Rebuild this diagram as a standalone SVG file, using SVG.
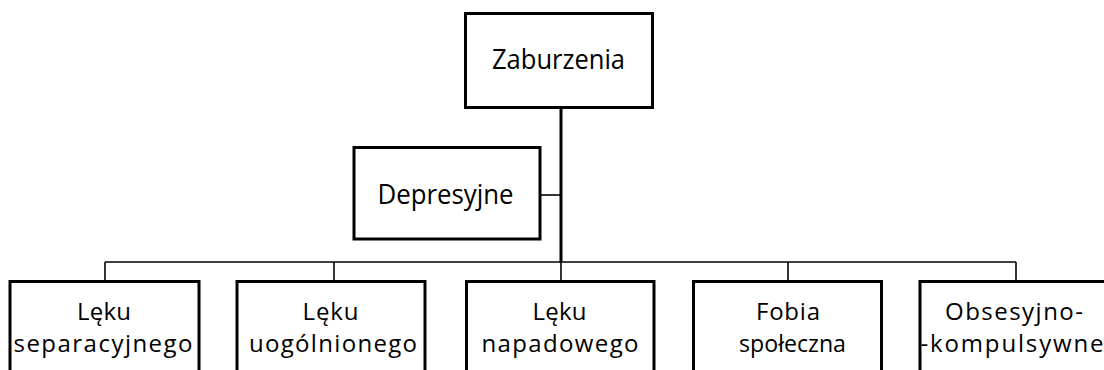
<svg xmlns="http://www.w3.org/2000/svg" width="1104" height="370" viewBox="0 0 1104 370">
<style>
.box{fill:#fff;stroke:#000;stroke-width:3}
.t{font-family:"Open Sans","Noto Sans",sans-serif;fill:#000;text-anchor:middle}
.big{font-size:27px}
.sm{font-size:24px}
.thin{stroke:#000;stroke-width:1.6;fill:none}
.thick{stroke:#000;stroke-width:3;fill:none}
</style>
<g id="connectors">
<line class="thick" x1="561" y1="107" x2="561" y2="262"/>
<line class="thin" x1="540" y1="195" x2="561" y2="195"/>
<line class="thin" x1="105" y1="262" x2="1016" y2="262"/>
<line class="thin" x1="105" y1="262" x2="105" y2="281"/>
<line class="thin" x1="334" y1="262" x2="334" y2="281"/>
<line class="thin" x1="561" y1="262" x2="561" y2="281"/>
<line class="thin" x1="788" y1="262" x2="788" y2="281"/>
<line class="thin" x1="1016" y1="262" x2="1016" y2="281"/>
</g>
<g id="zaburzenia">
<rect class="box" x="465.5" y="13.5" width="187" height="94"/>
<text class="t big" x="558.5" y="69" textLength="133" lengthAdjust="spacingAndGlyphs">Zaburzenia</text>
</g>
<g id="depresyjne">
<rect class="box" x="354" y="147.5" width="186" height="91.5"/>
<text class="t big" x="445.5" y="204" textLength="136" lengthAdjust="spacingAndGlyphs">Depresyjne</text>
</g>
<g id="separacyjnego">
<rect class="box" x="10" y="281.5" width="189" height="100"/>
<text class="t sm" x="104" y="320" textLength="54" lengthAdjust="spacing">Lęku</text>
<text class="t sm" x="103" y="352" textLength="179" lengthAdjust="spacing">separacyjnego</text>
</g>
<g id="uogolnionego">
<rect class="box" x="237" y="281.5" width="188" height="100"/>
<text class="t sm" x="330.5" y="320" textLength="56" lengthAdjust="spacing">Lęku</text>
<text class="t sm" x="333" y="352" textLength="168" lengthAdjust="spacing">uogólnionego</text>
</g>
<g id="napadowego">
<rect class="box" x="466.5" y="281.5" width="187.5" height="100"/>
<text class="t sm" x="559.5" y="320" textLength="54" lengthAdjust="spacing">Lęku</text>
<text class="t sm" x="560" y="352" textLength="157" lengthAdjust="spacing">napadowego</text>
</g>
<g id="fobia">
<rect class="box" x="693.5" y="281.5" width="188" height="100"/>
<text class="t sm" x="788" y="320" textLength="64" lengthAdjust="spacing">Fobia</text>
<text class="t sm" x="792.5" y="352" textLength="107" lengthAdjust="spacingAndGlyphs">społeczna</text>
</g>
<g id="obsesyjno">
<rect class="box" x="920" y="281.5" width="190" height="100"/>
<text class="t sm" x="1014" y="320" textLength="138" lengthAdjust="spacing">Obsesyjno-</text>
<text class="t sm" x="1012" y="352" textLength="183" lengthAdjust="spacing">-kompulsywne</text>
</g>
</svg>
